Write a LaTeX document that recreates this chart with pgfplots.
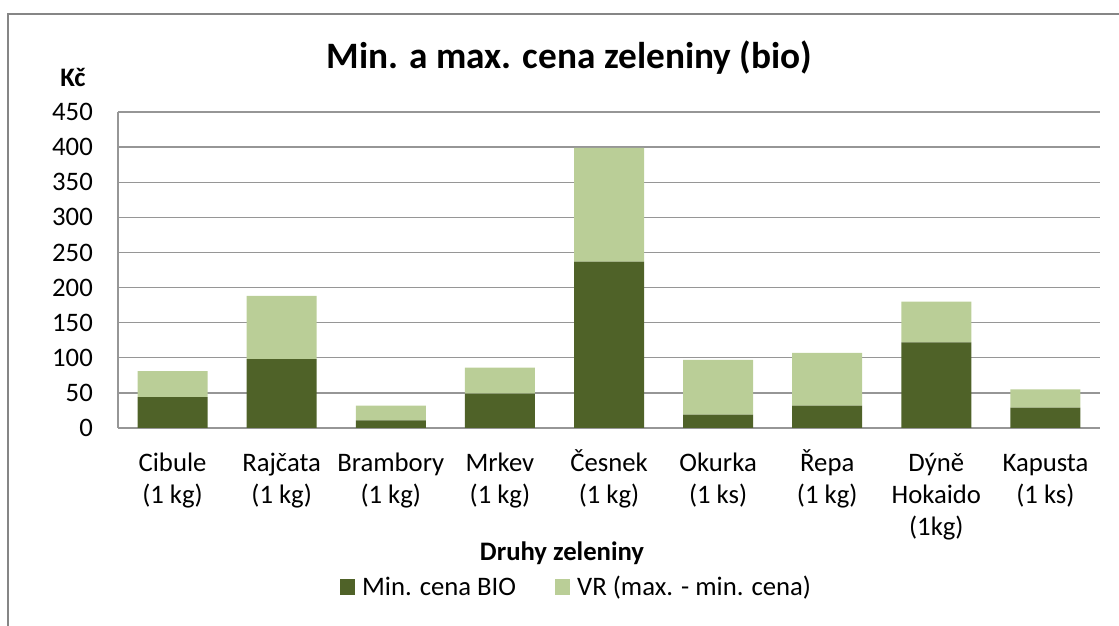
\documentclass[border=0pt]{standalone}
\usepackage{fontspec}
\setmainfont{Carlito}
\usepackage{pgfplots}
\pgfplotsset{compat=1.18}
\definecolor{darkg}{RGB}{79,98,40}
\definecolor{lightg}{RGB}{186,206,151}
\definecolor{gridc}{RGB}{150,150,150}
\definecolor{framec}{RGB}{134,134,134}
\newcommand\fs{\fontsize{26.7pt}{32pt}\selectfont}
\newcommand\ph{\vphantom{Řb}}
\begin{document}
\begin{tikzpicture}[x=1pt,y=1pt]
\path[use as bounding box] (0,0) rectangle (1119,626);
\draw[framec, line width=2pt] (7.5,0) -- (7.5,612) -- (1119,612);
\begin{axis}[
  at={(118pt,198pt)}, anchor=south west,
  scale only axis, width=982pt, height=316pt,
  ybar stacked, bar width=70pt,
  xmin=-0.5, xmax=8.5, ymin=0, ymax=450,
  xtick={0,...,8},
  xticklabels={{\ph Cibule\\(1 kg)},{\ph Rajčata\\(1 kg)},{\ph Brambory\\(1 kg)},{\ph Mrkev\\(1 kg)},{\ph Česnek\\(1 kg)},{\ph Okurka\\(1 ks)},{\ph Řepa\\(1 kg)},{\ph Dýně\\Hokaido\\(1kg)},{\ph Kapusta\\(1 ks)}},
  ytick distance=50,
  major tick length=0pt,
  axis x line=bottom, axis y line=left,
  axis line style={gridc, line width=1.5pt, -},
  ymajorgrids, grid style={gridc, line width=1.3pt},
  /pgf/number format/assume math mode=true,
  tick label style={font=\fs, text=black},
  yticklabel style={anchor=east, inner sep=0pt, xshift=-25pt},
  xticklabel style={align=center, anchor=north, inner sep=0pt, yshift=-21pt},
  legend style={at={(0.466,-0.503)}, anchor=center, draw=none, fill=none,
    legend columns=2, font=\fs, nodes={inner sep=0pt},
    /tikz/every odd column/.append style={column sep=7pt},
    /tikz/every even column/.append style={column sep=39pt}},
  legend image code/.code={\fill[#1] (0pt,-8pt) rectangle (15pt,8pt);},
  clip=false,
]
\addplot[fill=darkg, draw=none] coordinates {(0,44) (1,98) (2,11) (3,49) (4,237) (5,19) (6,32) (7,122) (8,29)};
\addplot[fill=lightg, draw=none] coordinates {(0,37) (1,90) (2,21) (3,37) (4,162) (5,78) (6,75) (7,58) (8,26)};
\legend{Min. cena BIO, VR (max. - min. cena)}
\end{axis}
\node[font=\fontsize{37.3pt}{44pt}\selectfont\bfseries] at (569,568) {Min. a max. cena zeleniny (bio)};
\node[font=\fs\bfseries] at (73,549) {Kč};
\node[font=\fs\bfseries] at (562,73) {Druhy zeleniny};
\end{tikzpicture}
\end{document}
